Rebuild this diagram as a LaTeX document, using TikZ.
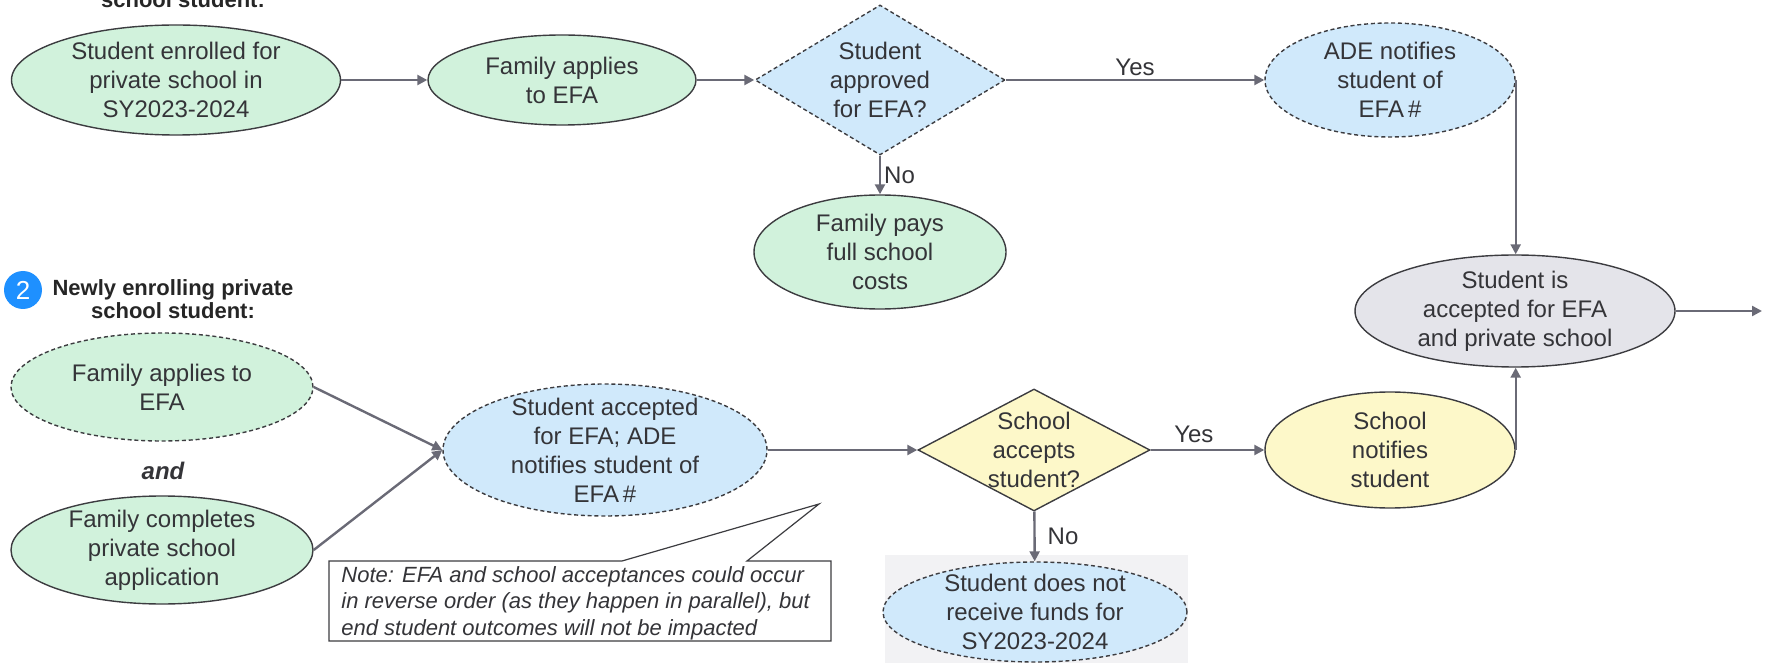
\documentclass[tikz,border=0pt]{standalone}
\usepackage{fontspec}
\setmainfont{Liberation Sans}
\usetikzlibrary{shapes.geometric,arrows.meta}
\definecolor{greenc}{RGB}{209,242,220}
\definecolor{bluec}{RGB}{208,233,251}
\definecolor{yellowc}{RGB}{253,248,201}
\definecolor{grayc}{RGB}{228,228,234}
\definecolor{bgc}{RGB}{242,242,244}
\definecolor{bordc}{RGB}{60,60,64}
\definecolor{arrc}{RGB}{106,106,118}
\definecolor{txtc}{RGB}{52,52,56}
\definecolor{numc}{RGB}{30,144,255}
\tikzset{
  shp/.style={draw=bordc, line width=0.7pt, inner sep=0pt},
  dsh/.style={dash pattern=on 2pt off 1.4pt},
  ell/.style={shp, ellipse},
  dmd/.style={shp, diamond},
  txt/.style={align=center, text=txtc, font=\fontsize{12}{14.5}\selectfont, inner sep=0pt},
  lab/.style={text=txtc, font=\fontsize{12}{14.5}\selectfont, inner sep=0pt},
  hd/.style={align=center, text=black!85, font=\fontsize{11}{11.5}\selectfont\bfseries, inner sep=0pt},
  arr/.style={draw=arrc, line width=1.2pt, -{Triangle[length=5pt,width=5pt]}},
}
\begin{document}
\begin{tikzpicture}[x=0.5pt,y=-0.5pt]
\useasboundingbox (0,0) rectangle (1768,663);
\clip (0,0) rectangle (1768,663);
% background for the "No" outcome
\fill[bgc] (885,555) rectangle (1188,670);
% headings
\node[hd, anchor=base] (h1) at (183,8) {school student:};
\node[circle, fill=numc, minimum size=19pt, inner sep=0pt, text=white, font=\fontsize{13}{13}\selectfont] (c2) at (23,290) {2};
\node[hd] (h2) at (173,299) {Newly enrolling private\\school student:};
% row 1
\node[ell, fill=greenc, minimum width=164.5pt, minimum height=55pt] (e1) at (176,80) {};
\node[txt] (e1t) at (e1) {Student enrolled for\\private school in\\SY2023-2024};
\node[ell, fill=greenc, minimum width=134pt, minimum height=45pt] (e2) at (562,80) {};
\node[txt] (e2t) at (e2) {Family applies\\to EFA};
\node[dmd, dsh, fill=bluec, minimum width=125pt, minimum height=75pt] (d1) at (880,80) {};
\node[txt] (d1t) at (d1) {Student\\approved\\for EFA?};
\node[ell, dsh, fill=bluec, minimum width=125pt, minimum height=57pt] (e3) at (1390,80) {};
\node[txt] (e3t) at (e3) {ADE notifies\\student of\\EFA\,\#};
\node[ell, fill=greenc, minimum width=126pt, minimum height=57pt] (e5) at (880,252) {};
\node[txt] (e5t) at (e5) {Family pays\\full school\\costs};
\node[ell, fill=grayc, minimum width=160pt, minimum height=56pt] (e4) at (1515,311) {};
\node[txt] (e4t) at (e4) {Student is\\accepted for EFA\\and private school};
\coordinate (out) at (1762,311);
% row 2
\node[ell, dsh, fill=greenc, minimum width=151pt, minimum height=54pt] (e6) at (162,387) {};
\node[txt] (e6t) at (e6) {Family applies to\\EFA};
\node[text=txtc, font=\fontsize{12}{14.5}\selectfont\bfseries\itshape, inner sep=0pt] (and) at (163,471) {and};
\node[ell, fill=greenc, minimum width=151pt, minimum height=54pt] (e7) at (162,550) {};
\node[txt] (e7t) at (e7) {Family completes\\private school\\application};
\node[ell, dsh, fill=bluec, minimum width=162pt, minimum height=66pt] (e8) at (605,450) {};
\node[txt] (e8t) at (e8) {Student accepted\\for EFA; ADE\\notifies student of\\EFA\,\#};
\node[dmd, fill=yellowc, minimum width=116pt, minimum height=61pt] (d2) at (1034,450) {};
\node[txt] (d2t) at (d2) {School\\accepts\\student?};
\node[ell, fill=yellowc, minimum width=125pt, minimum height=58pt] (e9) at (1390,450) {};
\node[txt] (e9t) at (e9) {School\\notifies\\student};
\node[ell, dsh, fill=bluec, minimum width=152pt, minimum height=50pt] (e10) at (1035,612) {};
\node[txt] (e10t) at (e10) {Student does not\\receive funds for\\SY2023-2024};
% note callout
\coordinate (tip) at (819,504);
\filldraw[fill=white, draw=bordc, line width=0.6pt] (329,561) -- (622,561) -- (tip) -- (747,561) -- (831,561) -- (831,641) -- (329,641) -- cycle;
\node[align=left, anchor=north west, text=txtc, font=\fontsize{11}{13.3}\selectfont\itshape, inner sep=0pt] (note) at (341,566) {Note: EFA and school acceptances could occur\\in reverse order (as they happen in parallel), but\\end student outcomes will not be impacted};
% connectors
\draw[arr] (e1) -- (e2);
\draw[arr] (e2) -- (d1);
\draw[arr] (d1) -- node[lab, above=1.5pt] {Yes} (e3);
\draw[arr] (d1) -- node[lab, right=1.5pt] {No} (e5);
\draw[arr] (e3.east) -- (e3.east |- e4.north);
\draw[arr] (e4.east) -- (out);
\draw[arr] (e6.east) -- (e8.west);
\draw[arr] (e7.east) -- (e8.west);
\draw[arr] (e8) -- (d2);
\draw[arr] (d2) -- node[lab, above=3pt, pos=0.38] {Yes} (e9);
\draw[arr] (d2) -- node[lab, right=6pt] {No} (e10);
\draw[arr] (e9.east) -- (e9.east |- e4.south);
\end{tikzpicture}
\end{document}
